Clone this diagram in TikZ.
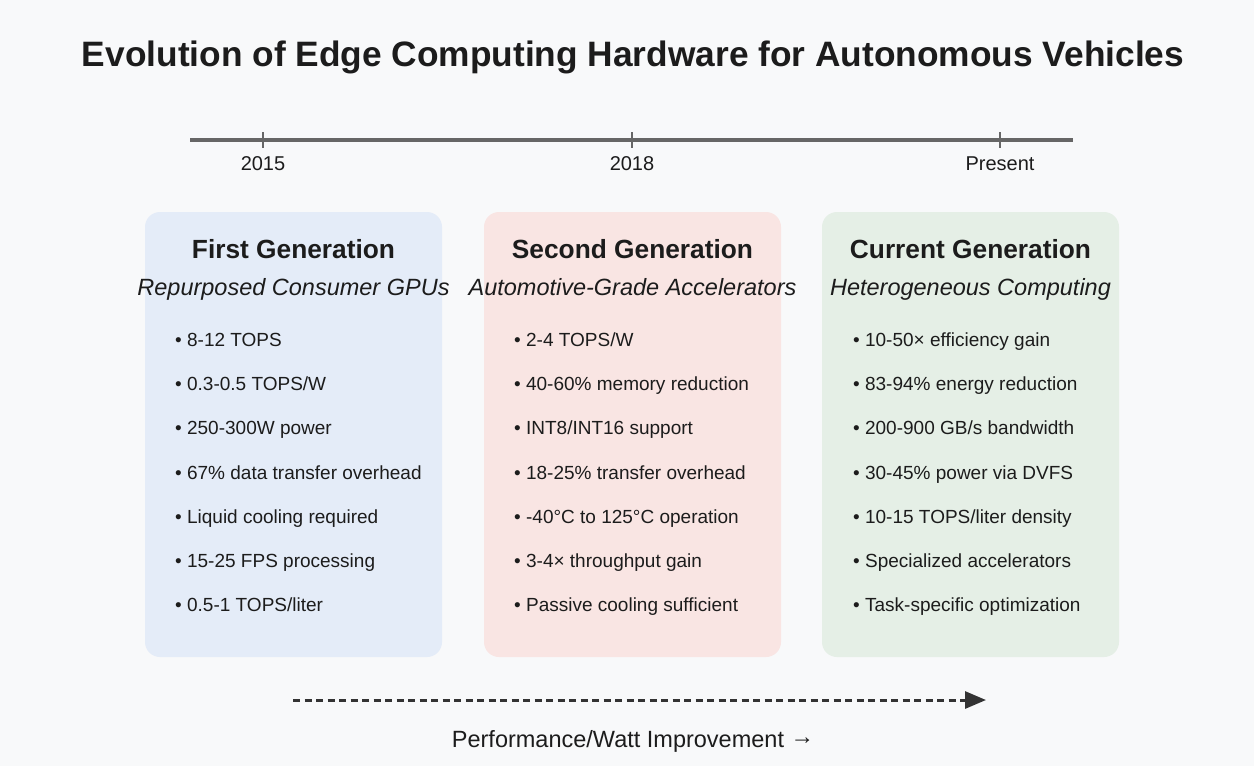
\documentclass[tikz,border=0pt]{standalone}
\usepackage{fontspec}
\setmainfont{Liberation Sans}
\usetikzlibrary{arrows.meta}

\definecolor{pagebg}{HTML}{F8F9FA}
\definecolor{ink}{HTML}{1C1C1C}
\definecolor{axis}{HTML}{666666}
\definecolor{genA}{HTML}{E4ECF8}
\definecolor{genB}{HTML}{F9E5E3}
\definecolor{genC}{HTML}{E5EFE6}

\newcommand{\fs}[1]{\fontsize{#1}{#1}\selectfont}

\tikzset{
  genbox/.style={rounded corners=15pt, draw=none, minimum width=297pt, minimum height=445pt, inner sep=0pt},
  heading/.style={font=\fs{26.3}\bfseries, text=ink, anchor=base},
  subheading/.style={font=\fs{23.5}\itshape, text=ink, anchor=base},
  item/.style={font=\fs{19}, text=ink, anchor=base west, inner sep=0pt},
  yearlbl/.style={font=\fs{20}, text=ink, anchor=base},
  tick/.style={draw=axis, line width=2.5pt},
}

\begin{document}
\begin{tikzpicture}[x=1pt, y=-1pt]
  % page
  \fill[pagebg] (0,0) rectangle (1254,766);
  \useasboundingbox (0,0) rectangle (1254,766);

  % title
  \node[font=\fs{35.3}\bfseries, text=ink, anchor=base] (title) at (633,66)
    {Evolution of Edge Computing Hardware for Autonomous Vehicles};

  % timeline
  \coordinate (tl0) at (190,140);
  \coordinate (tl1) at (1073,140);
  \draw[axis, line width=4pt] (tl0) -- (tl1);
  \foreach \x/\lab/\nm in {263/2015/y1, 632/2018/y2, 1000/Present/y3}{
    \draw[tick] (\x,132) -- (\x,148);
    \node[yearlbl] (\nm) at (\x,170) {\lab};
  }

  % generation panels
  \node[genbox, fill=genA] (g1) at (293.5,434.5) {};
  \node[genbox, fill=genB] (g2) at (632.5,434.5) {};
  \node[genbox, fill=genC] (g3) at (970.5,434.5) {};

  \node[heading] (h1) at (293.5,258) {First Generation};
  \node[heading] (h2) at (632.5,258) {Second Generation};
  \node[heading] (h3) at (970.5,258) {Current Generation};

  \node[subheading] (s1) at (293.5,295) {Repurposed Consumer GPUs};
  \node[subheading] (s2) at (632.5,295) {Automotive-Grade Accelerators};
  \node[subheading] (s3) at (970.5,295) {Heterogeneous Computing};

  % feature lists
  \foreach \t [count=\i] in {8-12 TOPS, 0.3-0.5 TOPS/W, 250-300W power,
      67\% data transfer overhead, Liquid cooling required,
      15-25 FPS processing, 0.5-1 TOPS/liter}{
    \node[item] (a\i) at (175,{340+44.2*(\i-1)+6.5}) {• \t};
  }
  \foreach \t [count=\i] in {2-4 TOPS/W, 40-60\% memory reduction,
      INT8/INT16 support, 18-25\% transfer overhead,
      -40°C to 125°C operation, 3-4× throughput gain,
      Passive cooling sufficient}{
    \node[item] (b\i) at (514,{340+44.2*(\i-1)+6.5}) {• \t};
  }
  \foreach \t [count=\i] in {10-50× efficiency gain, 83-94\% energy reduction,
      200-900 GB/s bandwidth, 30-45\% power via DVFS,
      10-15 TOPS/liter density, Specialized accelerators,
      Task-specific optimization}{
    \node[item] (c\i) at (853,{340+44.2*(\i-1)+6.5}) {• \t};
  }

  % performance trend
  \coordinate (p0) at (293,700);
  \coordinate (p1) at (986,700);
  \draw[draw=ink!90, line width=3pt, dash pattern=on 7pt off 4.5pt,
        -{Triangle[length=21pt, width=17pt]}] (p0) -- (p1);
  \node[font=\fs{23.5}, text=ink, anchor=base] (perf) at (633,747)
    {Performance/Watt Improvement \raisebox{2.5pt}{→}};
\end{tikzpicture}
\end{document}
